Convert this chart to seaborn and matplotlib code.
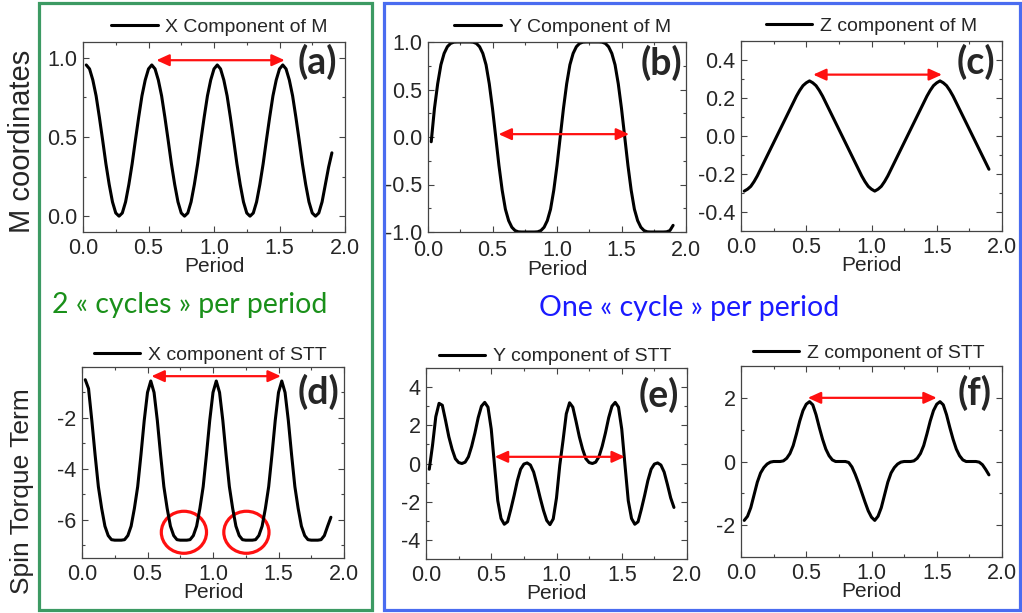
import numpy as np
import pandas as pd
import matplotlib.pyplot as plt
import seaborn as sns
from matplotlib.patches import Ellipse, Rectangle
from matplotlib.ticker import MultipleLocator, FixedLocator, FormatStrFormatter

# values, one sample every 0.025 period
period = [0.025, 0.05, 0.075, 0.1, 0.125, 0.15, 0.175, 0.2, 0.225, 0.25,
          0.275, 0.3, 0.325, 0.35, 0.375, 0.4, 0.425, 0.45, 0.475, 0.5,
          0.525, 0.55, 0.575, 0.6, 0.625, 0.65, 0.675, 0.7, 0.725, 0.75,
          0.775, 0.8, 0.825, 0.85, 0.875, 0.9, 0.925, 0.95, 0.975, 1.0,
          1.025, 1.05, 1.075, 1.1, 1.125, 1.15, 1.175, 1.2, 1.225, 1.25,
          1.275, 1.3, 1.325, 1.35, 1.375, 1.4, 1.425, 1.45, 1.475, 1.5,
          1.525, 1.55, 1.575, 1.6, 1.625, 1.65, 1.675, 1.7, 1.725, 1.75,
          1.775, 1.8, 1.825, 1.85, 1.875, 1.9]

mx = [0.955, 0.93, 0.86, 0.76, 0.625, 0.48, 0.33, 0.2, 0.09, 0.02,
      0.0, 0.02, 0.09, 0.2, 0.33, 0.48, 0.625, 0.76, 0.86, 0.93,
      0.955, 0.93, 0.86, 0.76, 0.625, 0.48, 0.33, 0.2, 0.09, 0.02,
      0.0, 0.02, 0.09, 0.2, 0.33, 0.48, 0.625, 0.76, 0.86, 0.93,
      0.955, 0.93, 0.86, 0.76, 0.625, 0.48, 0.33, 0.2, 0.09, 0.02,
      0.0, 0.02, 0.09, 0.2, 0.33, 0.48, 0.625, 0.76, 0.86, 0.93,
      0.955, 0.93, 0.86, 0.76, 0.625, 0.48, 0.33, 0.2, 0.09, 0.02,
      0.0, 0.02, 0.09, 0.2, 0.31, 0.4]

my = [-0.05, 0.3, 0.56, 0.76, 0.88, 0.95, 0.985, 0.998, 1.0, 1.0,
      1.0, 1.0, 1.0, 0.998, 0.985, 0.95, 0.88, 0.76, 0.56, 0.3,
      0.0, -0.3, -0.56, -0.76, -0.88, -0.95, -0.985, -0.998, -1.0, -1.0,
      -1.0, -1.0, -1.0, -0.998, -0.985, -0.95, -0.88, -0.76, -0.56, -0.3,
      0.0, 0.3, 0.56, 0.76, 0.88, 0.95, 0.985, 0.998, 1.0, 1.0,
      1.0, 1.0, 1.0, 0.998, 0.985, 0.95, 0.88, 0.76, 0.56, 0.3,
      0.0, -0.3, -0.56, -0.76, -0.88, -0.95, -0.985, -0.998, -1.0, -1.0,
      -1.0, -1.0, -1.0, -0.998, -0.985, -0.93]

mz = [-0.29, -0.28, -0.265, -0.24, -0.21, -0.175, -0.14, -0.105, -0.07, -0.035,
      0.0, 0.035, 0.07, 0.105, 0.14, 0.175, 0.21, 0.24, 0.265, 0.28,
      0.29, 0.28, 0.265, 0.24, 0.21, 0.175, 0.14, 0.105, 0.07, 0.035,
      0.0, -0.035, -0.07, -0.105, -0.14, -0.175, -0.21, -0.24, -0.265, -0.28,
      -0.29, -0.28, -0.265, -0.24, -0.21, -0.175, -0.14, -0.105, -0.07, -0.035,
      0.0, 0.035, 0.07, 0.105, 0.14, 0.175, 0.21, 0.24, 0.265, 0.28,
      0.29, 0.28, 0.265, 0.24, 0.21, 0.175, 0.14, 0.105, 0.07, 0.035,
      0.0, -0.035, -0.07, -0.105, -0.14, -0.175]

stt_x = [-0.5, -0.85, -2.1, -3.45, -4.7, -5.55, -6.25, -6.62, -6.78, -6.8,
         -6.8, -6.8, -6.78, -6.62, -6.25, -5.55, -4.7, -3.45, -2.1, -1.0,
         -0.55, -1.0, -2.1, -3.45, -4.7, -5.55, -6.25, -6.62, -6.78, -6.8,
         -6.8, -6.8, -6.78, -6.62, -6.25, -5.55, -4.7, -3.45, -2.1, -1.0,
         -0.55, -1.0, -2.1, -3.45, -4.7, -5.55, -6.25, -6.62, -6.78, -6.8,
         -6.8, -6.8, -6.78, -6.62, -6.25, -5.55, -4.7, -3.45, -2.1, -1.0,
         -0.55, -1.0, -2.1, -3.45, -4.7, -5.55, -6.25, -6.62, -6.78, -6.8,
         -6.8, -6.8, -6.78, -6.62, -6.25, -5.9]

stt_y = [-0.3, 0.95, 2.45, 3.15, 3.05, 2.25, 1.4, 0.75, 0.25, 0.05,
         0.0, 0.07, 0.35, 0.9, 1.6, 2.4, 3.0, 3.2, 2.95, 1.8,
         -0.1, -1.95, -2.88, -3.18, -3.05, -2.4, -1.68, -0.9, -0.3, -0.03,
         0.03, -0.08, -0.45, -1.1, -1.8, -2.45, -2.98, -3.2, -2.9, -1.8,
         -0.1, 1.2, 2.6, 3.18, 2.95, 2.2, 1.4, 0.75, 0.25, 0.05,
         0.0, 0.07, 0.35, 0.9, 1.6, 2.4, 3.0, 3.2, 2.95, 1.8,
         -0.1, -1.95, -2.88, -3.18, -3.05, -2.4, -1.68, -0.9, -0.3, -0.03,
         0.03, -0.08, -0.45, -1.1, -1.8, -2.3]

stt_z = [-1.85, -1.72, -1.45, -1.05, -0.65, -0.36, -0.19, -0.08, -0.02, 0.0,
         0.0, 0.0, 0.02, 0.1, 0.25, 0.5, 0.87, 1.27, 1.6, 1.8,
         1.88, 1.78, 1.47, 1.07, 0.7, 0.39, 0.18, 0.05, 0.0, 0.0,
         0.0, 0.0, -0.03, -0.17, -0.4, -0.67, -0.97, -1.27, -1.55, -1.75,
         -1.85, -1.72, -1.45, -1.05, -0.65, -0.36, -0.19, -0.08, -0.02, 0.0,
         0.0, 0.0, 0.02, 0.1, 0.25, 0.5, 0.87, 1.27, 1.6, 1.8,
         1.88, 1.78, 1.47, 1.07, 0.7, 0.39, 0.18, 0.05, 0.0, 0.0,
         0.0, 0.0, -0.02, -0.1, -0.25, -0.42]

legends = ["X Component of M", "Y Component of M", "Z component of M",
           "X component of STT", "Y component of STT", "Z component of STT"]
tags = ["(a)", "(b)", "(c)", "(d)", "(e)", "(f)"]

# red double arrows: (start, end, level) in data units
arrows = [(0.56, 1.54, 0.985), (0.547, 1.559, 0.03), (0.553, 1.54, 0.323),
          (0.53, 1.518, -0.36), (0.527, 1.524, 0.35), (0.512, 1.5, 2.0)]
# red circles in (d): centres
circles_t = [0.778, 1.255]
circles_v = [-6.49, -6.49]

df = pd.DataFrame({"Period": period, "mx": mx, "my": my, "mz": mz,
                   "sx": stt_x, "sy": stt_y, "sz": stt_z})

sns.set_theme(style="ticks")
plt.rcParams["font.family"] = ["Liberation Sans", "DejaVu Sans"]
plt.rcParams["axes.unicode_minus"] = False

W, H = 1022, 613
fig = plt.figure(figsize=(W / 100, H / 100), dpi=100)
fig.patch.set_facecolor("white")

# axes boxes in pixels (left, top, right, bottom)
boxes = [(83, 42, 345, 232), (428, 42, 686, 232), (741, 41, 1002, 231),
         (82, 367, 344, 558), (426, 368, 687, 559), (741, 366, 1002, 557)]
cols = ["mx", "my", "mz", "sx", "sy", "sz"]
ylims = [(-0.1, 1.1), (-1.0, 1.0), (-0.5, 0.5), (-7.5, 0.0), (-5, 5), (-3, 3)]
majors = [0.5, 0.5, 0.2, None, 2, 2]
minors = [0.25, 0.25, 0.1, 1, 1, 1]
fmts = ["%.1f", "%.1f", "%.1f", "%d", "%d", "%d"]
leg_pos = [(0.521, 1.079), (0.521, 1.079), (0.5, 1.08),
           (0.489, 1.063), (0.494, 1.06), (0.489, 1.066)]
tag_pos = [(0.893, 0.895), (0.903, 0.89), (0.9, 0.89),
           (0.903, 0.871), (0.893, 0.859), (0.895, 0.861)]

axes = []
for i in range(6):
    l, t, r, b = boxes[i]
    ax = fig.add_axes([l / W, 1 - b / H, (r - l) / W, (b - t) / H])
    sns.lineplot(data=df, x="Period", y=cols[i], ax=ax, color="black",
                 linewidth=2.2, label=legends[i])
    ax.set_xlim(0, 2)
    ax.set_ylim(*ylims[i])
    ax.xaxis.set_major_locator(MultipleLocator(0.5))
    ax.xaxis.set_minor_locator(MultipleLocator(0.25))
    ax.xaxis.set_major_formatter(FormatStrFormatter("%.1f"))
    if majors[i] is None:
        ax.yaxis.set_major_locator(FixedLocator([-6, -4, -2]))
    else:
        ax.yaxis.set_major_locator(MultipleLocator(majors[i]))
    ax.yaxis.set_minor_locator(MultipleLocator(minors[i]))
    ax.yaxis.set_major_formatter(FormatStrFormatter(fmts[i]))
    ax.tick_params(which="both", direction="in", top=True, right=True,
                   color="#444444", labelsize=15.5, pad=4)
    ax.tick_params(which="major", length=4, width=0.8)
    ax.tick_params(which="minor", length=2.5, width=0.8)
    # (b): keep "0.0" clear of the "-1.0" label above it
    ax.tick_params(axis="x", which="major", pad=6 if i == 1 else 4)
    for sp in ax.spines.values():
        sp.set_color("#444444")
        sp.set_linewidth(0.9)
    ax.set_xlabel("Period", fontsize=15, labelpad=-1)
    ax.set_ylabel("")
    ax.legend(loc="center", bbox_to_anchor=leg_pos[i], frameon=False,
              fontsize=14, handlelength=2.4, handletextpad=0.4,
              borderpad=0, borderaxespad=0)
    ax.text(tag_pos[i][0], tag_pos[i][1], tags[i], transform=ax.transAxes,
            ha="center", va="center", fontsize=27, fontweight="bold",
            family=["Lato", "DejaVu Sans"])
    x0, x1, lev = arrows[i]
    ax.annotate("", xy=(x1, lev), xytext=(x0, lev),
                arrowprops=dict(arrowstyle="<|-|>,head_length=0.55,head_width=0.25",
                                color="#ff1010", lw=1.6, mutation_scale=14,
                                shrinkA=0, shrinkB=0))
    axes.append(ax)

for ct, cv in zip(circles_t, circles_v):
    axes[3].add_patch(Ellipse((ct, cv), 0.345, 1.65, fill=False,
                              edgecolor="#ff1010", lw=2.3, clip_on=False))

# side labels and comments
fig.text(22 / W, 1 - 141 / H, "M coordinates", rotation=90, fontsize=21,
         ha="center", va="center")
fig.text(22 / W, 1 - 491 / H, "Spin Torque Term", rotation=90, fontsize=19,
         ha="center", va="center")
fig.text(190 / W, 1 - 305 / H, "2 « cycles » per period", color="#1a901a",
         fontsize=20.5, ha="center", va="center", family=["Lato", "DejaVu Sans"])
fig.text(689 / W, 1 - 308 / H, "One « cycle » per period", color="#1a1aff",
         fontsize=20.5, ha="center", va="center", family=["Lato", "DejaVu Sans"])

# group frames
fig.add_artist(Rectangle((39 / W, 1 - 610 / H), (372 - 39) / W, 607 / H,
                         transform=fig.transFigure, fill=False,
                         edgecolor="#3c9a63", lw=2.3))
fig.add_artist(Rectangle((384 / W, 1 - 610 / H), (1020 - 384) / W, 607 / H,
                         transform=fig.transFigure, fill=False,
                         edgecolor="#4a6cf0", lw=2.3))

fig.savefig("out.png", dpi=100)
